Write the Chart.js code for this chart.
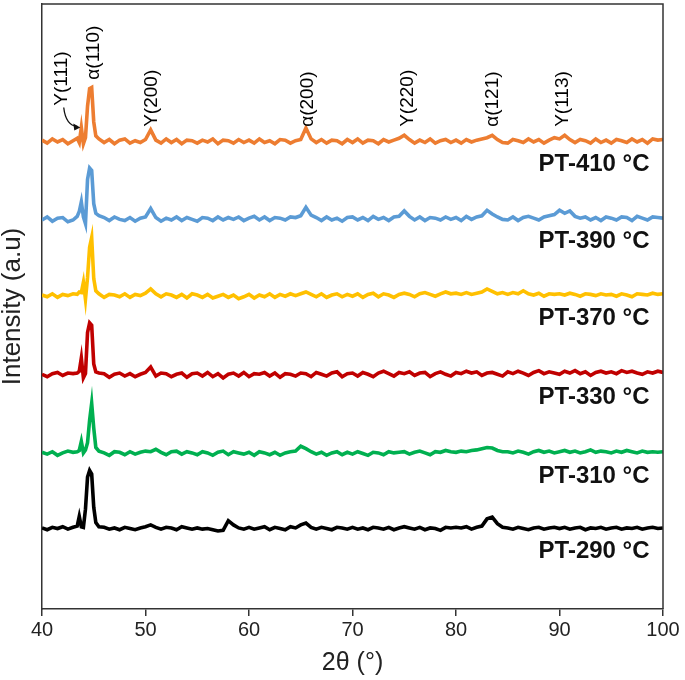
<!DOCTYPE html>
<html>
<head>
<meta charset="utf-8">
<title>XRD patterns</title>
<script src="https://cdn.jsdelivr.net/npm/chart.js@4.4.1/dist/chart.umd.min.js"></script>
<style>
  html, body { margin: 0; padding: 0; background: #fff; }
  #wrap { width: 685px; height: 680px; }
</style>
</head>
<body>
<div id="wrap"><canvas id="xrd"></canvas></div>
<script>
// 2theta positions (deg), finer around the main alpha(110) peak
const twoTheta = [
  40, 40.5, 41, 41.5, 42, 42.5, 43,
  43.4, 43.6, 43.8, 44.0, 44.2, 44.4, 44.6, 44.8, 45.0, 45.2, 45.5,
  46, 46.5, 47, 47.5, 48, 48.5, 49, 49.5,
  50, 50.5, 51, 51.5, 52, 52.5, 53, 53.5, 54, 54.5,
  55, 55.5, 56, 56.5, 57, 57.5, 58, 58.5, 59, 59.5,
  60, 60.5, 61, 61.5, 62, 62.5, 63, 63.5, 64, 64.5,
  65, 65.5, 66, 66.5, 67, 67.5, 68, 68.5, 69, 69.5,
  70, 70.5, 71, 71.5, 72, 72.5, 73, 73.5, 74, 74.5,
  75, 75.5, 76, 76.5, 77, 77.5, 78, 78.5, 79, 79.5,
  80, 80.5, 81, 81.5, 82, 82.5, 83, 83.5, 84, 84.5,
  85, 85.5, 86, 86.5, 87, 87.5, 88, 88.5, 89, 89.5,
  90, 90.5, 91, 91.5, 92, 92.5, 93, 93.5, 94, 94.5,
  95, 95.5, 96, 96.5, 97, 97.5, 98, 98.5, 99, 99.5,
  100
];

// intensities (a.u.), relative to its own baseline
const pt410 = [
  0.2, -0.3, 0.4, -0.1, 0.3, -0.4, 0.1,
  0.5, -0.2, 2.3, -0.4, 0.6, 5.8, 8.7, 8.9, 3.2, 0.9, 0.4,
  -0.2, 0.3, -0.4, 0.2, 0.4, -0.3, 0.1, -0.2,
  0.3, 1.9, 0.2, -0.3, 0.4, -0.2, 0.3, -0.4, 0.2, 0.1,
  -0.3, 0.2, -0.1, 0.4, -0.4, 0.2, 0.1, -0.3, 0.3, -0.2,
  0.2, -0.3, 0.4, -0.2, 0.1, -0.4, 0.3, 0.2, -0.3, 0.1,
  0.3, 2.2, 0.4, -0.2, 0.3, -0.3, 0.2, 0.1, -0.4, 0.3,
  -0.2, 0.4, -0.3, 0.2, 0.1, -0.4, 0.3, -0.1, 0.2, 0.5,
  1.0, 0.3, -0.3, 0.2, -0.2, 0.4, -0.3, 0.1, 0.3, -0.2,
  0.2, -0.3, 0.3, -0.1, 0.2, 0.4, 0.6, 1.0, 0.3, -0.2,
  -0.3, 0.3, 0.1, -0.2, 0.4, -0.1, 0.3, -0.3, 0.2, 0.6,
  0.4, 1.0, 0.3, -0.2, 0.3, 0.1, -0.3, 0.4, -0.2, 0.2,
  -0.3, 0.3, 0.1, -0.2, 0.4, -0.1, 0.3, -0.3, 0.4, 0.2,
  0.3
];
const pt390 = [
  -0.2, 0.3, -0.4, 0.1, 0.2, -0.5, -0.2,
  0.4, 1.2, 2.8, 0.3, -0.8, 6.5, 8.4, 8.0, 2.5, 0.9, 0.5,
  0.2, -0.3, 0.3, -0.1, -0.3, 0.2, -0.4, 0.1,
  0.3, 1.7, 0.2, -0.4, 0.1, -0.2, 0.3, -0.3, 0.2, -0.1,
  -0.4, 0.2, 0.1, -0.3, 0.3, -0.2, 0.2, -0.1, 0.3, -0.3,
  0.1, 0.4, -0.2, 0.3, -0.3, 0.2, 0.1, -0.2, 0.3, 0.2,
  0.5, 1.9, 0.6, 0.2, -0.3, 0.3, -0.2, 0.1, -0.4, 0.2,
  0.3, -0.2, 0.2, -0.3, 0.4, -0.1, 0.2, -0.3, 0.3, 0.4,
  1.3, 0.4, -0.2, 0.3, -0.3, 0.2, 0.1, -0.2, 0.3, -0.1,
  0.2, -0.3, 0.4, -0.1, 0.3, 0.5, 1.4, 0.8, 0.3, -0.1,
  -0.2, 0.3, -0.3, 0.2, 0.4, 0.1, -0.2, 0.3, 0.5, 0.7,
  1.4, 0.9, 1.3, 0.4, 0.1, 0.3, -0.2, 0.2, -0.3, 0.3,
  0.1, -0.2, 0.3, 0.2, -0.3, 0.4, 0.1, -0.2, 0.3, 0.2,
  0.1
];
const pt370 = [
  0.1, -0.2, 0.3, -0.3, 0.2, 0.0, 0.3,
  0.2, 0.6, 0.5, 2.2, -0.6, 3.0, 8.0, 9.6, 2.8, 0.8, 0.3,
  -0.3, 0.2, 0.1, -0.2, 0.3, -0.3, 0.2, 0.0,
  0.4, 1.1, 0.3, -0.2, 0.3, 0.1, -0.3, 0.2, -0.4, 0.3,
  0.1, -0.3, 0.2, -0.4, -0.1, 0.2, -0.3, 0.1, -0.5, -0.2,
  0.2, -0.4, 0.1, -0.2, 0.3, -0.3, 0.2, -0.1, 0.3, 0.0,
  0.3, 0.6, 0.2, -0.2, 0.3, -0.3, 0.1, 0.3, -0.2, 0.2,
  -0.1, 0.3, -0.3, 0.2, 0.4, -0.2, 0.3, 0.1, -0.3, 0.2,
  0.4, 0.2, -0.2, 0.3, 0.5, 0.2, -0.1, 0.3, 0.6, 0.3,
  0.4, 0.2, 0.5, 0.2, 0.4, 0.6, 1.1, 0.7, 0.3, 0.5,
  0.2, 0.5, 0.3, 0.8, 0.3, 0.1, 0.4, -0.1, 0.3, 0.2,
  0.3, 0.1, 0.4, 0.2, -0.1, 0.3, 0.2, 0.0, 0.3, 0.1,
  0.2, -0.1, 0.3, 0.1, -0.2, 0.3, 0.2, 0.1, 0.4, 0.2,
  0.3
];
const pt330 = [
  0.1, -0.3, 0.2, 0.4, -0.1, 0.3, 0.2,
  0.3, 0.6, 2.8, -0.5, 0.2, 7.0, 8.6, 8.2, 1.8, 0.5, 0.3,
  0.2, -0.4, 0.1, 0.3, -0.2, 0.2, -0.3, 0.1,
  0.4, 1.3, -0.2, 0.3, 0.2, -0.3, 0.1, 0.3, -0.4, 0.2,
  0.3, -0.2, 0.4, -0.3, 0.2, -0.5, 0.1, 0.3, -0.2, 0.4,
  -0.3, 0.2, 0.1, 0.4, -0.2, 0.3, -0.4, 0.2, 0.1, -0.2,
  0.3, 0.2, -0.3, 0.4, 0.1, -0.2, 0.3, 0.5, -0.3, 0.2,
  0.3, -0.2, 0.4, 0.1, -0.3, 0.3, 0.6, 0.2, -0.2, 0.4,
  0.2, 0.5, -0.1, 0.3, 0.4, -0.3, 0.2, 0.5, 0.1, -0.2,
  0.4, 0.2, 0.6, 0.3, 0.5, -0.1, 0.3, 0.4, 0.1, -0.2,
  0.5, 0.2, 0.6, 0.3, -0.1, 0.4, 0.7, 0.2, 0.5, 0.3,
  0.1, 0.6, 0.3, 0.7, 0.2, 0.5, -0.1, 0.4, 0.6, 0.3,
  0.5, 0.2, 0.7, 0.4, 0.6, 0.3, 0.1, 0.5, 0.3, 0.6,
  0.4
];
const pt310 = [
  0.2, -0.1, 0.3, -0.3, 0.1, 0.4, 0.2,
  0.3, 0.5, 2.0, 0.1, 0.6, 1.8, 5.5, 8.3, 4.2, 1.0, 0.4,
  0.1, -0.3, 0.3, 0.2, -0.2, 0.3, -0.1, 0.2,
  0.4, 0.3, 0.7, 0.2, -0.2, 0.3, 0.4, -0.1, 0.3, 0.1,
  -0.2, 0.3, 0.1, -0.3, 0.2, 0.4, -0.2, 0.3, 0.1, -0.1,
  0.2, -0.3, 0.3, 0.1, -0.2, 0.2, -0.3, 0.1, 0.3, 0.4,
  1.2, 0.8, 0.3, -0.1, 0.2, -0.3, 0.1, 0.3, -0.2, 0.2,
  -0.1, 0.3, 0.0, -0.3, 0.2, 0.1, -0.2, 0.3, 0.1, 0.2,
  0.3, -0.1, 0.2, 0.4, 0.1, -0.2, 0.3, 0.2, 0.5, 0.3,
  0.2, 0.4, 0.3, 0.5, 0.6, 0.8, 1.0, 0.9, 0.5, 0.3,
  0.3, 0.1, 0.4, 0.2, -0.1, 0.3, 0.5, 0.2, 0.4, 0.1,
  0.3, 0.5, 0.2, 0.4, 0.1, 0.3, 0.6, 0.2, 0.4, 0.3,
  0.1, 0.4, 0.2, 0.5, 0.3, 0.1, 0.4, 0.2, 0.3, 0.2,
  0.3
];
const pt290 = [
  0.1, -0.2, 0.2, 0.0, 0.3, -0.1, 0.2,
  0.4, 2.0, 0.3, 0.2, 3.2, 8.5, 9.6, 9.0, 3.5, 1.0, 0.3,
  0.2, -0.1, 0.1, -0.2, 0.2, 0.0, -0.2, 0.1,
  0.3, 0.6, 0.2, -0.1, 0.2, 0.1, -0.2, 0.3, 0.1, -0.1,
  0.1, -0.1, 0.0, -0.2, -0.4, -0.3, 1.3, 0.6, 0.1, -0.1,
  0.2, -0.1, 0.1, 0.3, -0.2, 0.2, 0.0, -0.2, 0.3, 0.1,
  0.6, 0.9, 0.2, -0.1, 0.2, 0.0, -0.2, 0.2, 0.1, -0.1,
  0.2, -0.1, 0.1, -0.2, 0.2, 0.1, -0.1, 0.2, -0.2, 0.1,
  0.3, 0.1, -0.1, 0.2, -0.2, 0.1, 0.0, -0.3, 0.2, 0.1,
  0.2, 0.1, 0.3, -0.1, 0.2, 0.4, 1.6, 1.9, 0.8, 0.2,
  0.1, -0.1, 0.2, 0.0, -0.2, 0.1, 0.2, -0.1, 0.1, 0.2,
  0.0, 0.2, -0.1, 0.1, 0.2, -0.2, 0.1, 0.0, 0.2, -0.1,
  0.1, 0.2, -0.1, 0.1, 0.0, 0.2, -0.1, 0.1, 0.2, 0.0,
  0.1
];

const sampleNames = ['PT-410 °C', 'PT-390 °C', 'PT-370 °C', 'PT-330 °C', 'PT-310 °C', 'PT-290 °C'];
const sampleData = [pt410, pt390, pt370, pt330, pt310, pt290];
const stackOffset = [77.3, 64.5, 51.8, 38.7, 25.7, 13.3];
const sampleColors = ['#ED7D31', '#5B9BD5', '#FFC000', '#C00000', '#00B050', '#000000'];

// phase reflections marked above the top pattern
const peakNames = ['Y(111)', 'α(110)', 'Y(200)', 'α(200)', 'Y(220)', 'α(121)', 'Y(113)'];
const peakAt = [41.9, 45.0, 50.6, 65.7, 75.3, 83.6, 90.3];

const fontFam = '"Liberation Sans", Arial, sans-serif';

const datasets = sampleData.map((vals, i) => ({
  label: sampleNames[i],
  data: twoTheta.map((x, j) => ({ x: x, y: stackOffset[i] + vals[j] })),
  borderColor: sampleColors[i],
  borderWidth: 3.6,
  pointRadius: 0,
  tension: 0,
  fill: false
}));

const extras = {
  id: 'extras',
  afterDatasetsDraw(chart) {
    const ctx = chart.ctx;
    const xs = chart.scales.x, ys = chart.scales.y;
    const a = chart.chartArea;
    ctx.save();

    // sample names under each trace
    ctx.font = 'bold 24px ' + fontFam;
    ctx.fillStyle = '#111';
    ctx.textAlign = 'right';
    ctx.textBaseline = 'middle';
    for (let i = 0; i < sampleNames.length; i++) {
      ctx.fillText(sampleNames[i], xs.getPixelForValue(98.7), ys.getPixelForValue(stackOffset[i] - 3.8));
    }

    // rotated peak labels
    ctx.font = '19px ' + fontFam;
    ctx.fillStyle = '#000';
    ctx.textAlign = 'left';
    for (let i = 0; i < peakNames.length; i++) {
      let bottom = ys.getPixelForValue(stackOffset[0] + 2.4);
      if (i === 0) bottom = ys.getPixelForValue(stackOffset[0] + 5.9);
      if (i === 1) bottom = ys.getPixelForValue(stackOffset[0] + 10.2);
      ctx.save();
      ctx.translate(xs.getPixelForValue(peakAt[i]), bottom);
      ctx.rotate(-Math.PI / 2);
      ctx.fillText(peakNames[i], 0, 0);
      ctx.restore();
    }

    // little curved arrow from Y(111) to its peak
    const sx = xs.getPixelForValue(42.1), sy = ys.getPixelForValue(stackOffset[0] + 5.6);
    const ex = xs.getPixelForValue(43.7), ey = ys.getPixelForValue(stackOffset[0] + 2.3);
    ctx.strokeStyle = '#111';
    ctx.lineWidth = 1.3;
    ctx.beginPath();
    ctx.moveTo(sx, sy);
    ctx.quadraticCurveTo(sx + 2, ey - 2, ex - 3, ey - 1);
    ctx.stroke();
    ctx.fillStyle = '#111';
    ctx.beginPath();
    ctx.moveTo(ex, ey);
    ctx.lineTo(ex - 7, ey - 4);
    ctx.lineTo(ex - 6, ey + 3);
    ctx.closePath();
    ctx.fill();

    // top and right frame lines
    ctx.strokeStyle = '#333';
    ctx.lineWidth = 1.5;
    ctx.beginPath();
    ctx.moveTo(a.left, a.top);
    ctx.lineTo(a.right, a.top);
    ctx.lineTo(a.right, a.bottom);
    ctx.stroke();
    ctx.restore();
  }
};

new Chart(document.getElementById('xrd'), {
  type: 'line',
  data: { datasets: datasets },
  options: {
    responsive: true,
    maintainAspectRatio: false,
    animation: false,
    layout: { padding: { top: 4, right: 22, left: 0, bottom: 0 } },
    plugins: { legend: { display: false }, tooltip: { enabled: false } },
    scales: {
      x: {
        type: 'linear',
        min: 40,
        max: 100,
        afterFit: s => { s.height = 71; },
        ticks: { stepSize: 10, color: '#222', font: { family: fontFam, size: 20 }, padding: 2, maxRotation: 0 },
        grid: { display: true, drawOnChartArea: false, drawTicks: true, tickLength: 7, color: '#333', lineWidth: 1.5 },
        border: { display: true, color: '#333', width: 1.5 },
        title: { display: true, text: '2θ (°)', color: '#222', font: { family: fontFam, size: 25 }, padding: { top: 0, bottom: 2 } }
      },
      y: {
        min: 0,
        max: 100,
        afterFit: s => { s.width = 42; },
        ticks: { display: false },
        grid: { display: false },
        border: { display: true, color: '#333', width: 1.5 },
        title: { display: true, text: 'Intensity (a.u)', color: '#222', font: { family: fontFam, size: 26, lineHeight: 1.0 }, padding: 0 }
      }
    }
  },
  plugins: [extras]
});
</script>
</body>
</html>
